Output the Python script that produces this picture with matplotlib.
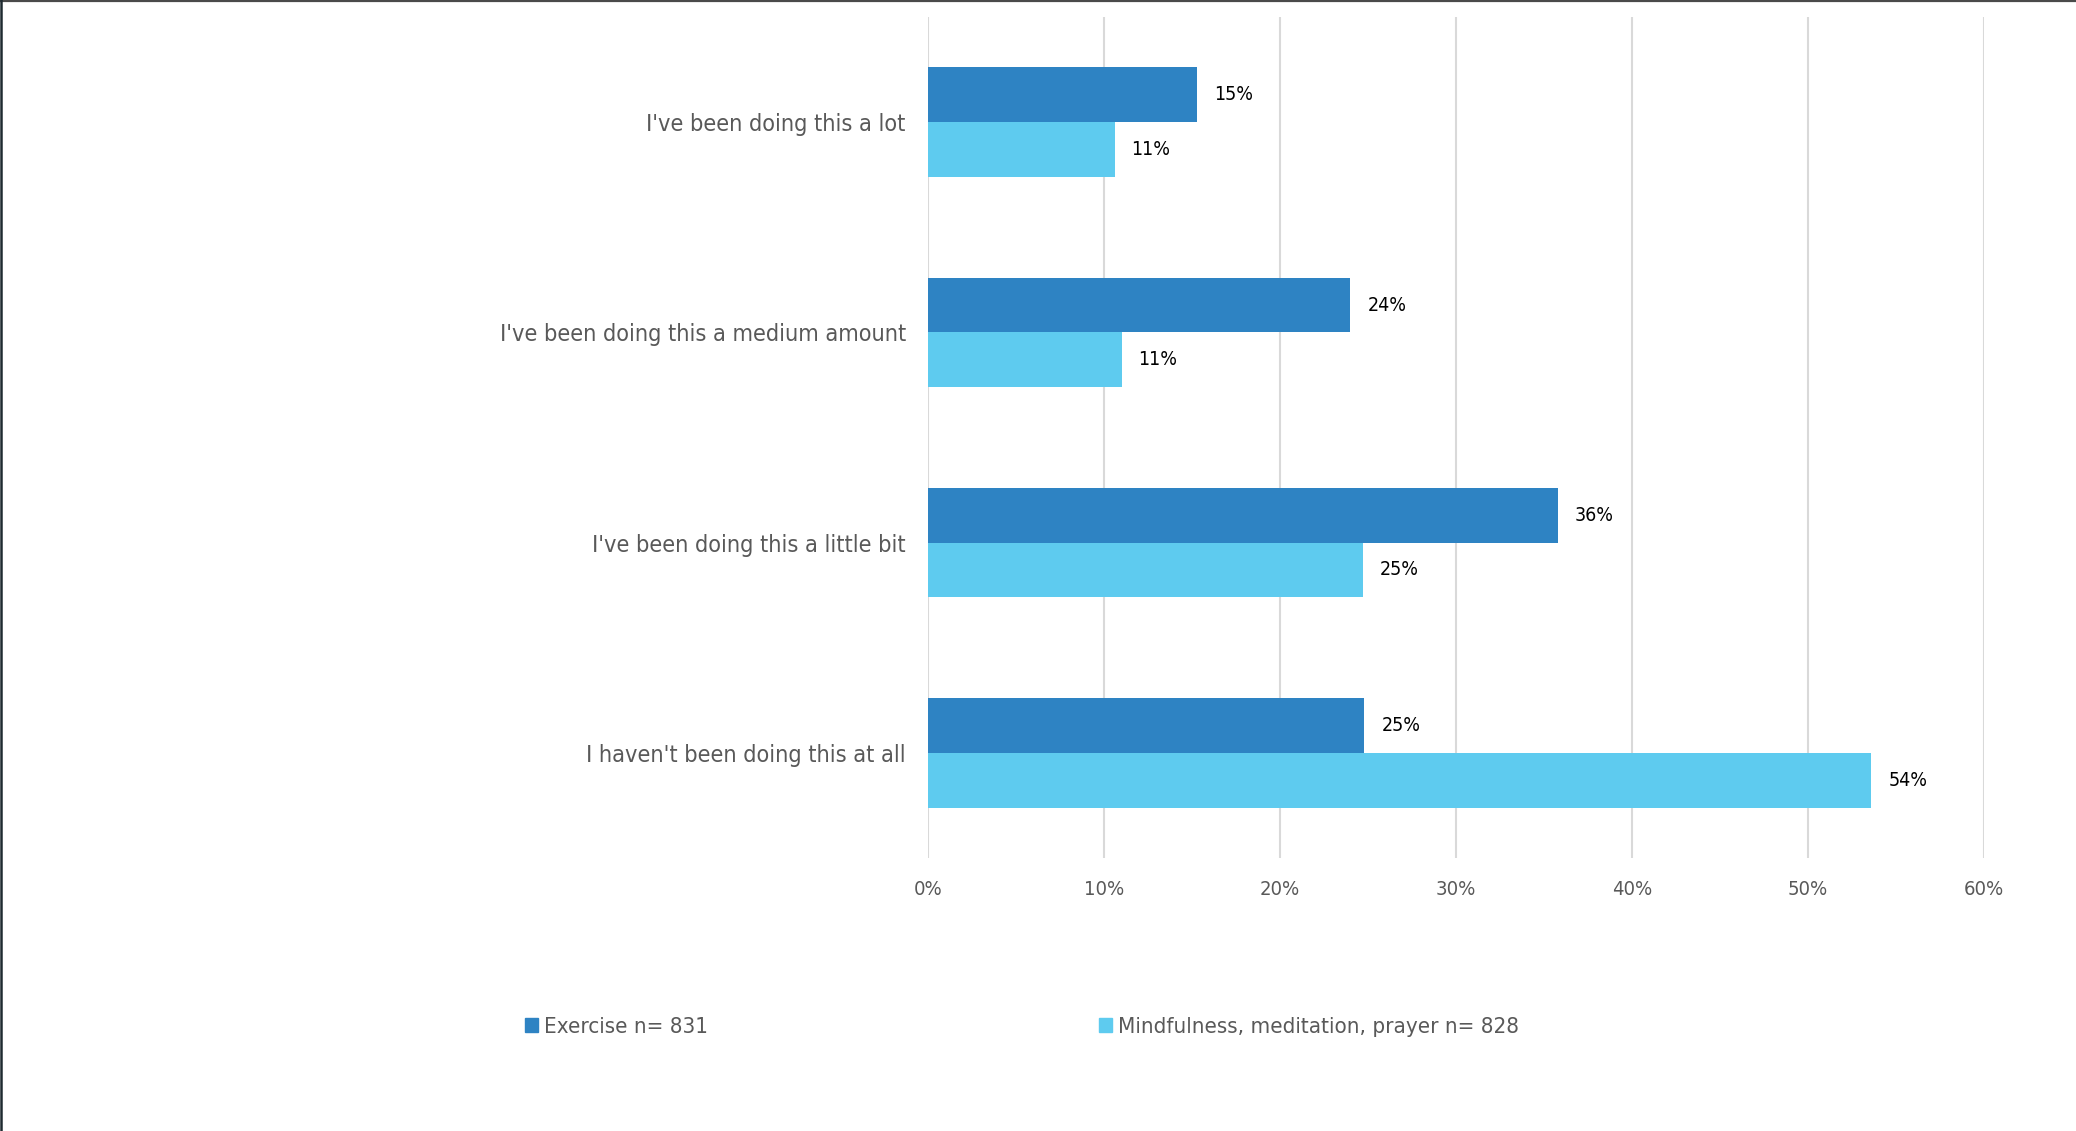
"""Horizontal grouped bar chart: how much people have been exercising vs. practising mindfulness."""

import matplotlib

matplotlib.use("Agg")
import matplotlib.pyplot as plt
from matplotlib.lines import Line2D
from matplotlib.patches import Patch

categories = [
    "I've been doing this a lot",
    "I've been doing this a medium amount",
    "I've been doing this a little bit",
    "I haven't been doing this at all",
]
exercise = [15.3, 24.0, 35.8, 24.8]
mindfulness = [10.6, 11.0, 24.7, 53.6]
series_names = ["Exercise n= 831", "Mindfulness, meditation, prayer n= 828"]
xticks = [0, 10, 20, 30, 40, 50, 60]

dark_blue = "#2e83c3"
light_blue = "#5ecbef"
grey_text = "#595959"
grid_grey = "#d9d9d9"

W, H, DPI = 2076, 1131, 100
fig = plt.figure(figsize=(W / DPI, H / DPI), dpi=DPI)
fig.patch.set_facecolor("white")

# thin frame along the top and left edges
fig.add_artist(Line2D([0, 1], [1 - 1 / H, 1 - 1 / H], transform=fig.transFigure, color="#4a4a4a", lw=1.6))
fig.add_artist(Line2D([1.2 / W, 1.2 / W], [0, 1], transform=fig.transFigure, color="#1e2a30", lw=1.8))

ax = fig.add_axes([928 / W, 1 - 858 / H, 1056 / W, 841 / H])

h = 0.26
ys = list(range(len(categories)))
ax.barh([y - h / 2 for y in ys], exercise, height=h, color=dark_blue, label=series_names[0], zorder=3)
ax.barh([y + h / 2 for y in ys], mindfulness, height=h, color=light_blue, label=series_names[1], zorder=3)

for y, v in zip(ys, exercise):
    ax.annotate(f"{v:.0f}%", (v, y - h / 2), xytext=(17, 0), textcoords="offset pixels",
                va="center", ha="left", fontsize=14, fontstretch="condensed", color="black")
for y, v in zip(ys, mindfulness):
    ax.annotate(f"{v:.0f}%", (v, y + h / 2), xytext=(17, 0), textcoords="offset pixels",
                va="center", ha="left", fontsize=14, fontstretch="condensed", color="black")

ax.set_xlim(0, 60)
ax.set_ylim(len(categories) - 0.5, -0.5)
ax.set_xticks(xticks)
ax.set_xticklabels([f"{t}%" for t in xticks], fontsize=14.5, fontstretch="condensed", color=grey_text)
ax.set_yticks(ys)
ax.set_yticklabels(categories, fontsize=16.8, fontstretch="condensed", color=grey_text)
ax.tick_params(axis="both", length=0)
ax.tick_params(axis="y", pad=16)
ax.tick_params(axis="x", pad=16)
ax.grid(axis="x", color=grid_grey, lw=1.5, zorder=0)
for s in ax.spines.values():
    s.set_visible(False)

handles = [Patch(color=dark_blue), Patch(color=light_blue)]
fig.legend(handles, series_names, loc="center left", bbox_to_anchor=(525 / W, 1 - 1027 / H),
           ncol=2, frameon=False, handlelength=0.6, handleheight=0.6, handletextpad=0.25,
           columnspacing=17.6, borderaxespad=0, borderpad=0,
           prop={"size": 16, "stretch": "condensed"}, labelcolor=grey_text)

fig.savefig("out.png", dpi=DPI)
